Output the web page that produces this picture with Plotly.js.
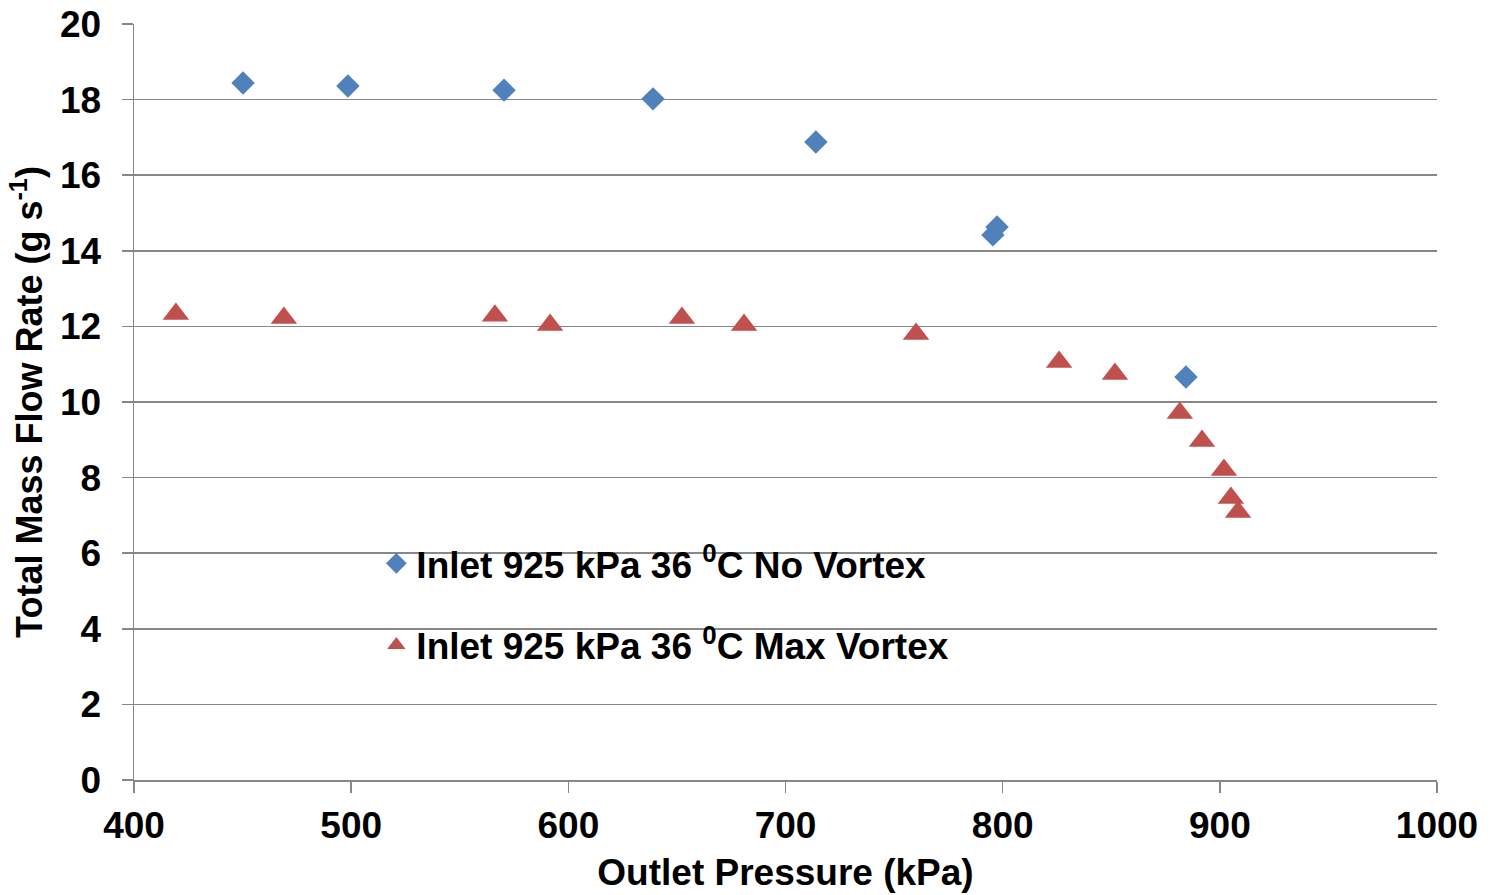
<!DOCTYPE html>
<html>
<head>
<meta charset="utf-8">
<script src="https://cdn.plot.ly/plotly-3.0.1.min.js"></script>
<style>html,body{margin:0;padding:0;background:#fff;}#chart{width:1493px;height:895px;}</style>
</head>
<body>
<div id="chart"></div>
<script>
// Series: Inlet 925 kPa 36 °C No Vortex
const noVortexPressure = [450.2, 498.5, 570.4, 639.0, 714.0, 795.5, 797.4, 884.4];
const noVortexFlow     = [18.44, 18.36, 18.25, 18.02, 16.88, 14.42, 14.63, 10.66];
// Series: Inlet 925 kPa 36 °C Max Vortex
const maxVortexPressure = [419.3, 469.0, 566.2, 591.6, 652.3, 680.9, 760.1, 826.0, 851.7, 881.6, 891.8, 901.9, 905.1, 908.4];
const maxVortexFlow     = [12.33, 12.22, 12.28, 12.04, 12.22, 12.04, 11.80, 11.06, 10.74, 9.71, 8.97, 8.20, 7.46, 7.09];
const seriesNames = ["Inlet 925 kPa 36 <sup>0</sup>C No Vortex", "Inlet 925 kPa 36 <sup>0</sup>C Max Vortex"];
const xTickVals = [400, 500, 600, 700, 800, 900, 1000];
const yTickVals = [0, 2, 4, 6, 8, 10, 12, 14, 16, 18, 20];

const FONT = "Liberation Sans, Arial, sans-serif";
const AXIS_COLOR = "#878787";

const traces = [
  {
    type: "scatter", mode: "markers", name: seriesNames[0],
    x: noVortexPressure, y: noVortexFlow,
    marker: {symbol: "diamond", size: 18, color: "#4F81BD"},
    legend: "legend"
  },
  {
    type: "scatter", mode: "markers", name: seriesNames[1],
    x: maxVortexPressure, y: maxVortexFlow,
    marker: {symbol: "triangle-up", size: 23, color: "#C0504D"},
    legend: "legend2"
  }
];

const legendCommon = {
  bgcolor: "rgba(0,0,0,0)",
  font: {family: FONT, size: 37, color: "#000", weight: "bold"},
  xanchor: "left", yanchor: "middle",
  itemwidth: 30
};

const layout = {
  width: 1493, height: 895,
  margin: {l: 134, r: 56, t: 24, b: 115},
  paper_bgcolor: "#fff", plot_bgcolor: "#fff",
  font: {family: FONT, color: "#000"},
  showlegend: true,
  legend: Object.assign({}, legendCommon, {x: 0.186, y: 0.286}),
  legend2: Object.assign({}, legendCommon, {x: 0.186, y: 0.178}),
  xaxis: {
    range: [400, 1000], tickvals: xTickVals,
    showgrid: false, zeroline: false,
    showline: true, linecolor: AXIS_COLOR, linewidth: 1.5,
    ticks: "outside", ticklen: 11, tickcolor: AXIS_COLOR, tickwidth: 1.5,
    tickfont: {family: FONT, size: 37, color: "#000", weight: "bold"},
    ticklabelstandoff: 1,
    title: {text: "Outlet Pressure (kPa)", font: {family: FONT, size: 37, color: "#000", weight: "bold"}, standoff: 14}
  },
  yaxis: {
    range: [0, 20], tickvals: yTickVals,
    showgrid: true, gridcolor: AXIS_COLOR, gridwidth: 1.5,
    zeroline: false,
    showline: true, linecolor: AXIS_COLOR, linewidth: 1.5,
    ticks: "outside", ticklen: 11, tickcolor: AXIS_COLOR, tickwidth: 1.5,
    tickfont: {family: FONT, size: 37, color: "#000", weight: "bold"},
    ticklabelstandoff: 13,
    title: {text: "Total Mass Flow Rate (g s<sup>-1</sup>)", font: {family: FONT, size: 36, color: "#000", weight: "bold"}, standoff: 6}
  }
};

Plotly.newPlot("chart", traces, layout, {displayModeBar: false, staticPlot: true});
</script>
</body>
</html>
